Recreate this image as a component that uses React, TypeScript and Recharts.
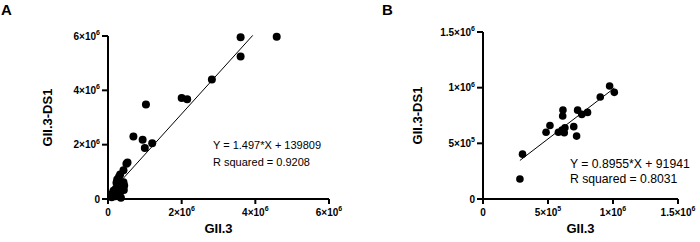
import React from "react";
import {
  ReferenceLine,
  Scatter,
  ScatterChart,
  XAxis,
  YAxis,
} from "recharts";

// panel A: GII.3 vs GII.3-DS1
const aPoints = [
  { x: 3.6e6, y: 5.95e6 },
  { x: 4.58e6, y: 5.97e6 },
  { x: 3.6e6, y: 5.25e6 },
  { x: 2.82e6, y: 4.4e6 },
  { x: 2.0e6, y: 3.72e6 },
  { x: 2.15e6, y: 3.67e6 },
  { x: 1.03e6, y: 3.48e6 },
  { x: 0.69e6, y: 2.3e6 },
  { x: 0.94e6, y: 2.18e6 },
  { x: 1.0e6, y: 1.88e6 },
  { x: 1.2e6, y: 2.05e6 },
  { x: 0.53e6, y: 1.34e6 },
  { x: 0.5e6, y: 1.3e6 },
  { x: 0.42e6, y: 1.06e6 },
  { x: 0.33e6, y: 0.9e6 },
  { x: 0.3e6, y: 0.82e6 },
  { x: 0.25e6, y: 0.72e6 },
  { x: 0.42e6, y: 0.62e6 },
  { x: 0.23e6, y: 0.6e6 },
  { x: 0.34e6, y: 0.52e6 },
  { x: 0.44e6, y: 0.5e6 },
  { x: 0.4e6, y: 0.45e6 },
  { x: 0.21e6, y: 0.38e6 },
  { x: 0.43e6, y: 0.33e6 },
  { x: 0.15e6, y: 0.3e6 },
  { x: 0.33e6, y: 0.25e6 },
  { x: 0.12e6, y: 0.2e6 },
  { x: 0.3e6, y: 0.14e6 },
  { x: 0.2e6, y: 0.1e6 },
  { x: 0.1e6, y: 0.06e6 },
  { x: 0.35e6, y: 0.05e6 },
];
const aSlope = 1.497;
const aIntercept = 139809;
const aFitX = [0.1e6, 3.93e6];
const aTicks = [0, 2e6, 4e6, 6e6];
const aTickLabels = ["0", "2×10^6", "4×10^6", "6×10^6"];
const aEquation = ["Y = 1.497*X + 139809", "R squared = 0.9208"];

// panel B
const bPoints = [
  { x: 2.84e5, y: 1.8e5 },
  { x: 3.04e5, y: 4.03e5 },
  { x: 4.85e5, y: 6.0e5 },
  { x: 5.15e5, y: 6.6e5 },
  { x: 5.8e5, y: 6.0e5 },
  { x: 6.15e5, y: 8.0e5 },
  { x: 6.13e5, y: 7.45e5 },
  { x: 6.08e5, y: 6.2e5 },
  { x: 6.3e5, y: 6.4e5 },
  { x: 6.25e5, y: 5.95e5 },
  { x: 6.98e5, y: 6.5e5 },
  { x: 7.2e5, y: 5.65e5 },
  { x: 7.28e5, y: 7.98e5 },
  { x: 7.6e5, y: 7.6e5 },
  { x: 8.04e5, y: 7.78e5 },
  { x: 9.02e5, y: 9.16e5 },
  { x: 9.74e5, y: 1.015e6 },
  { x: 1.01e6, y: 9.58e5 },
];
const bSlope = 0.8955;
const bIntercept = 91941;
const bFitX = [2.84e5, 1.01e6];
const bTicks = [0, 5e5, 1e6, 1.5e6];
const bTickLabels = ["0", "5×10^5", "1×10^6", "1.5×10^6"];
const bEquation = ["Y = 0.8955*X + 91941", "R squared = 0.8031"];

const FONT = '"Liberation Sans", Arial, sans-serif';

function tickText(ticks: number[], labels: string[], value: number) {
  const i = ticks.indexOf(value);
  const [base, exp] = (i >= 0 ? labels[i] : String(value)).split("^");
  return { base, exp };
}

function makeXTick(ticks: number[], labels: string[]) {
  return (props: any) => {
    const { x, y, payload } = props;
    const { base, exp } = tickText(ticks, labels, payload.value);
    return (
      <text x={x} y={y + 9.5} textAnchor="middle" fontFamily={FONT} fontWeight="bold" fontSize={10} fill="#000">
        <tspan>{base}</tspan>
        {exp && (
          <tspan dy={-4.5} fontSize={7}>
            {exp}
          </tspan>
        )}
      </text>
    );
  };
}

function makeYTick(ticks: number[], labels: string[]) {
  return (props: any) => {
    const { x, y, payload } = props;
    const { base, exp } = tickText(ticks, labels, payload.value);
    return (
      <text x={x} y={y + 3.6} textAnchor="end" fontFamily={FONT} fontWeight="bold" fontSize={10} fill="#000">
        <tspan>{base}</tspan>
        {exp && (
          <tspan dy={-4.5} fontSize={7}>
            {exp}
          </tspan>
        )}
      </text>
    );
  };
}

function yTitle(cx: number) {
  return (props: any) => {
    const vb = props.viewBox;
    const cy = vb.y + vb.height / 2;
    return (
      <text
        x={cx}
        y={cy}
        transform={`rotate(-90, ${cx}, ${cy})`}
        textAnchor="middle"
        dominantBaseline="central"
        fontFamily={FONT}
        fontWeight="bold"
        fontSize={13}
        fill="#000"
      >
        GII.3-DS1
      </text>
    );
  };
}

function xTitle(cy: number) {
  return (props: any) => {
    const vb = props.viewBox;
    const cx = vb.x + vb.width / 2;
    return (
      <text x={cx} y={cy} textAnchor="middle" dominantBaseline="central" fontFamily={FONT} fontWeight="bold" fontSize={13} fill="#000">
        GII.3
      </text>
    );
  };
}

const dot = (r: number) => (p: any) => <circle cx={p.cx} cy={p.cy} r={r} fill="#000" />;

const axisLine = { stroke: "#000", strokeWidth: 2 };
const tickLine = { stroke: "#000", strokeWidth: 2 };

function Panel({
  points,
  slope,
  intercept,
  fitX,
  ticks,
  labels,
  max,
  top,
  right,
  yWidth,
  yTitleX,
  r,
}: {
  points: { x: number; y: number }[];
  slope: number;
  intercept: number;
  fitX: number[];
  ticks: number[];
  labels: string[];
  max: number;
  top: number;
  right: number;
  yWidth: number;
  yTitleX: number;
  r: number;
}) {
  const seg = fitX.map((x) => ({ x, y: slope * x + intercept }));
  return (
    <ScatterChart width={350} height={242} margin={{ top, right, bottom: 0, left: 0 }}>
      <XAxis
        type="number"
        dataKey="x"
        domain={[0, max]}
        ticks={ticks}
        interval={0}
        height={43}
        axisLine={axisLine}
        tickLine={tickLine}
        tickSize={5}
        tick={makeXTick(ticks, labels)}
        label={{ content: xTitle(228) }}
      />
      <YAxis
        type="number"
        dataKey="y"
        domain={[0, max]}
        ticks={ticks}
        interval={0}
        width={yWidth}
        axisLine={axisLine}
        tickLine={tickLine}
        tickSize={6}
        tick={makeYTick(ticks, labels)}
        label={{ content: yTitle(yTitleX) }}
      />
      <ReferenceLine
        segment={[seg[0], seg[1]]}
        stroke="#000"
        strokeWidth={1}
        ifOverflow="visible"
      />
      <Scatter data={points} fill="#000" shape={dot(r)} isAnimationActive={false} />
    </ScatterChart>
  );
}

export default function App() {
  return (
    <div style={{ position: "absolute", left: 0, top: 0, width: 700, height: 242, background: "#fff" }}>
      <div style={{ position: "absolute", left: 0, top: 0 }}>
        <Panel
          points={aPoints}
          slope={aSlope}
          intercept={aIntercept}
          fitX={aFitX}
          ticks={aTicks}
          labels={aTickLabels}
          max={6e6}
          top={36}
          right={21}
          yWidth={108}
          yTitleX={47}
          r={4}
        />
      </div>
      <div style={{ position: "absolute", left: 350, top: 0 }}>
        <Panel
          points={bPoints}
          slope={bSlope}
          intercept={bIntercept}
          fitX={bFitX}
          ticks={bTicks}
          labels={bTickLabels}
          max={1.5e6}
          top={32}
          right={22}
          yWidth={133}
          yTitleX={67}
          r={3.8}
        />
      </div>
      <svg width={700} height={242} style={{ position: "absolute", left: 0, top: 0, pointerEvents: "none" }}>
        <g fontFamily={FONT} fill="#000">
          <text x={1} y={15} fontWeight="bold" fontSize={15}>A</text>
          <text x={382} y={15} fontWeight="bold" fontSize={15}>B</text>
          <text x={213} y={149} fontSize={11}>{aEquation[0]}</text>
          <text x={213} y={166} fontSize={11}>{aEquation[1]}</text>
          <text x={570} y={168} fontSize={12.2}>{bEquation[0]}</text>
          <text x={570} y={183} fontSize={12.2}>{bEquation[1]}</text>
        </g>
      </svg>
    </div>
  );
}
